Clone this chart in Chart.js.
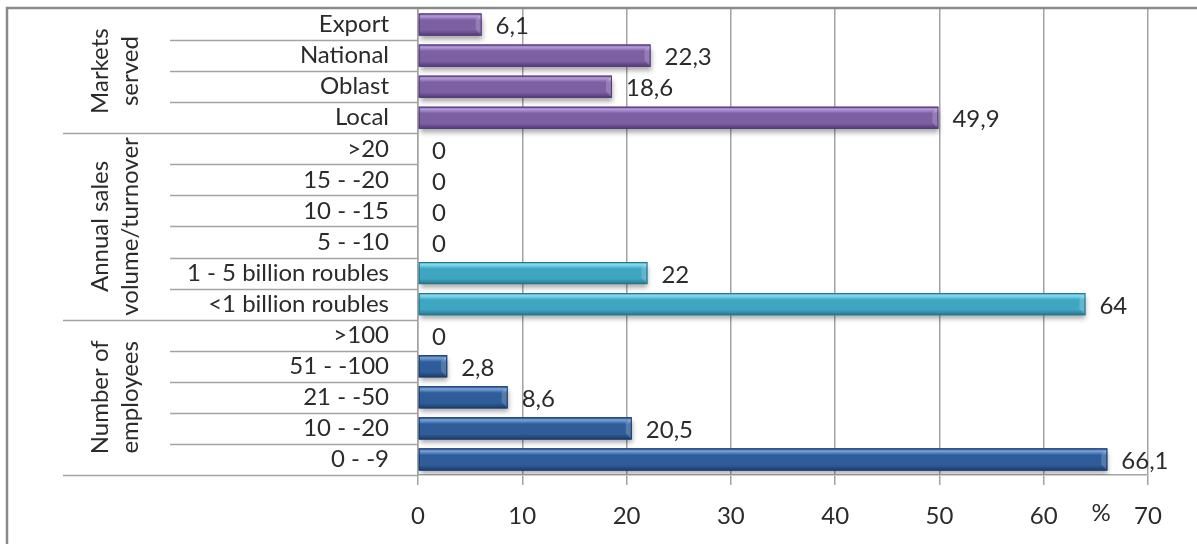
<!DOCTYPE html>
<html>
<head>
<meta charset="utf-8">
<script src="https://cdn.jsdelivr.net/npm/chart.js@4/dist/chart.umd.min.js"></script>
<style>
  html, body { margin: 0; padding: 0; background: #ffffff; }
  #wrap { position: relative; width: 1197px; height: 544px; }
</style>
</head>
<body>
<div id="wrap"><canvas id="c"></canvas></div>
<script>
// ---- data ----
const categories = [
  "Export", "National", "Oblast", "Local",
  ">20", "15 - -20", "10 - -15", "5 - -10", "1 - 5 billion roubles", "<1 billion roubles",
  ">100", "51 - -100", "21 - -50", "10 - -20", "0 - -9"
];
const values = [6.1, 22.3, 18.6, 49.9, 0, 0, 0, 0, 22, 64, 0, 2.8, 8.6, 20.5, 66.1];
const groupNames = [["Markets", "served"], ["Annual sales", "volume/turnover"], ["Number of", "employees"]];
const groupSizes = [4, 6, 5];
const xTickValues = [0, 10, 20, 30, 40, 50, 60, 70];
const axisUnit = "%";

// ---- styles ----
const FONT = "Lato, 'Open Sans', sans-serif";
const FSIZE = 24;
const palette = [
  { light: "#b39ad6", mid: "#7d60a4", dark: "#523a78" },
  { light: "#86dcf0", mid: "#3fa6c1", dark: "#26758a" },
  { light: "#7aa3da", mid: "#2f5d9a", dark: "#1c3c6b" }
];
const barGroup = [];
groupSizes.forEach((n, g) => { for (let i = 0; i < n; i++) barGroup.push(g); });

function boundaryY(scale, i) {
  const n = categories.length;
  if (i <= 0) return scale.getPixelForTick(0) - (scale.getPixelForTick(1) - scale.getPixelForTick(0)) / 2;
  if (i >= n) return scale.getPixelForTick(n - 1) + (scale.getPixelForTick(n - 1) - scale.getPixelForTick(n - 2)) / 2;
  return (scale.getPixelForTick(i - 1) + scale.getPixelForTick(i)) / 2;
}

const decoPlugin = {
  id: "deco",
  beforeDatasetsDraw(chart) {
    const ctx = chart.ctx;
    ctx.save();
    ctx.shadowColor = "rgba(0,0,0,0.35)";
    ctx.shadowBlur = 5;
    ctx.shadowOffsetY = 4;
    ctx.shadowOffsetX = 1;
  },
  afterDatasetsDraw(chart) {
    const ctx = chart.ctx;
    ctx.restore();
    const meta = chart.getDatasetMeta(0);
    meta.data.forEach((el, i) => {
      const p = el.getProps(["x", "y", "base", "height"], true);
      const w = p.x - p.base;
      const top = p.y - p.height / 2, h = p.height;
      const col = palette[barGroup[i]];
      if (w > 0.5) {
        const g = ctx.createLinearGradient(0, top, 0, top + h);
        g.addColorStop(0, col.mid);
        g.addColorStop(0.12, col.light);
        g.addColorStop(0.3, col.mid);
        g.addColorStop(0.75, col.mid);
        g.addColorStop(1, col.dark);
        ctx.fillStyle = g;
        ctx.fillRect(p.base, top, w, h);
        const b = Math.min(6, w / 2);
        ctx.fillStyle = "rgba(255,255,255,0.18)";
        ctx.beginPath();
        ctx.moveTo(p.x - b, top + b); ctx.lineTo(p.x, top); ctx.lineTo(p.x, top + h); ctx.lineTo(p.x - b, top + h - b);
        ctx.closePath(); ctx.fill();
        ctx.strokeStyle = col.dark;
        ctx.lineWidth = 1;
        ctx.strokeRect(p.base + 0.5, top + 0.5, w - 1, h - 1);
      }
      ctx.fillStyle = "#2b2b2b";
      ctx.font = FSIZE + "px " + FONT;
      ctx.textAlign = "left";
      ctx.textBaseline = "middle";
      const txt = String(values[i]).replace(".", ",");
      ctx.fillText(txt, p.x + 14, p.y + 2);
    });
  },
  afterDraw(chart) {
    const ctx = chart.ctx;
    const ys = chart.scales.y;
    const xs = chart.scales.x;
    const left = chart.chartArea.left;
    ctx.save();
    ctx.strokeStyle = "#a3a3a3";
    ctx.lineWidth = 1.5;
    let idx = 0;
    const groupStarts = [];
    groupSizes.forEach(n => { groupStarts.push(idx); idx += n; });
    for (let i = 1; i <= categories.length; i++) {
      const y = Math.round(boundaryY(ys, i)) + 0.5;
      const isGroup = groupStarts.includes(i) || i === categories.length;
      ctx.beginPath();
      ctx.moveTo(isGroup ? 63 : 170, y);
      ctx.lineTo(left, y);
      ctx.stroke();
    }
    ctx.fillStyle = "#2b2b2b";
    ctx.font = FSIZE + "px " + FONT;
    ctx.textAlign = "center";
    ctx.textBaseline = "middle";
    groupNames.forEach((lines, g) => {
      const y0 = boundaryY(ys, groupStarts[g]);
      const y1 = boundaryY(ys, groupStarts[g] + groupSizes[g]);
      const cy = (y0 + y1) / 2;
      lines.forEach((t, k) => {
        ctx.save();
        ctx.translate(100 + k * 30, cy);
        ctx.rotate(-Math.PI / 2);
        ctx.fillText(t, 0, 0);
        ctx.restore();
      });
    });
    ctx.textAlign = "center";
    ctx.fillText(axisUnit, xs.getPixelForValue(65.5), 513);
    ctx.strokeStyle = "#8a8a8a";
    ctx.lineWidth = 2.5;
    ctx.beginPath();
    ctx.moveTo(7, 544); ctx.lineTo(7, 8); ctx.lineTo(1197, 8);
    ctx.stroke();
    ctx.restore();
  }
};

new Chart(document.getElementById("c"), {
  type: "bar",
  data: {
    labels: categories,
    datasets: [{
      data: values,
      backgroundColor: barGroup.map(g => palette[g].mid),
      borderWidth: 0,
      barPercentage: 0.71,
      categoryPercentage: 1
    }]
  },
  options: {
    indexAxis: "y",
    responsive: true,
    maintainAspectRatio: false,
    animation: false,
    layout: { padding: { left: 0, top: 9, right: 49, bottom: 0 } },
    plugins: { legend: { display: false }, tooltip: { enabled: false } },
    scales: {
      x: {
        type: "linear",
        min: 0, max: 70,
        afterBuildTicks: s => { s.ticks = xTickValues.map(v => ({ value: v })); },
        afterFit: s => { s.height = 69; s.paddingLeft = 0; s.paddingRight = 0; },
        ticks: { font: { family: FONT, size: FSIZE }, color: "#2b2b2b", padding: 17, maxRotation: 0 },
        grid: { color: "#a3a3a3", lineWidth: 1.5, tickLength: 10 },
        border: { color: "#a3a3a3", width: 1.5 }
      },
      y: {
        type: "category",
        offset: true,
        afterFit: s => { s.width = 418; s.paddingTop = 0; s.paddingBottom = 0; },
        ticks: { font: { family: FONT, size: FSIZE }, color: "#2b2b2b", padding: 21, autoSkip: false },
        grid: { display: false },
        border: { color: "#a3a3a3", width: 1.5 }
      }
    }
  },
  plugins: [decoPlugin]
});
</script>
</body>
</html>
